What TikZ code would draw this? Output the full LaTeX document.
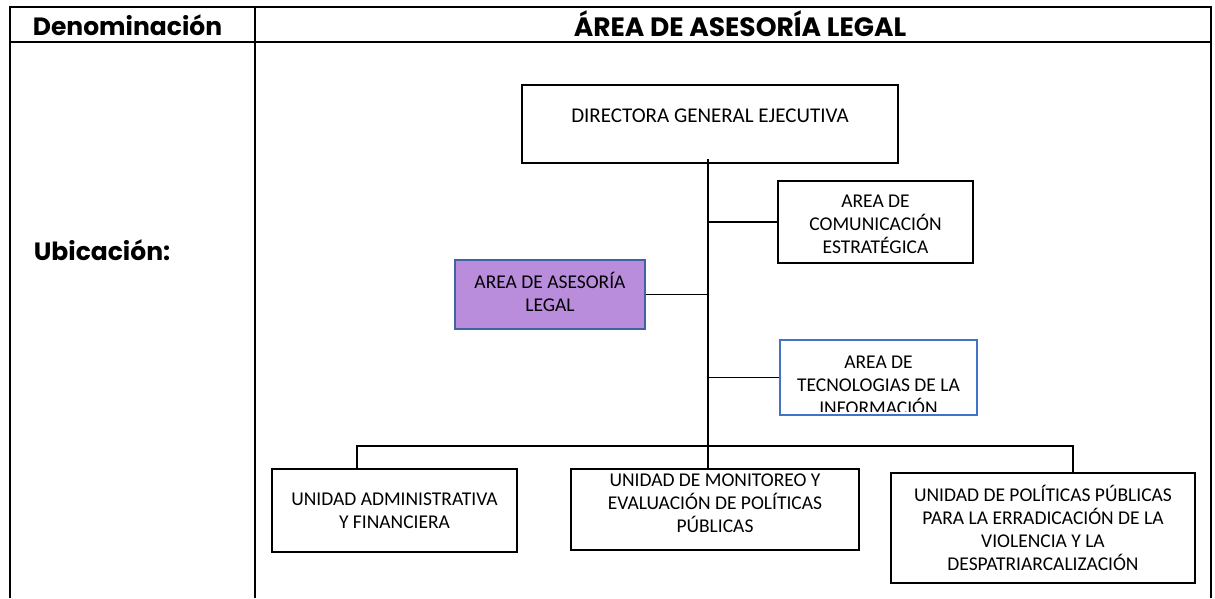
\documentclass[tikz,border=0pt]{standalone}
\usepackage{fontspec}
\setmainfont{Carlito}
\newfontfamily\headfont{Poppins}
\usetikzlibrary{positioning}
\definecolor{legalfill}{RGB}{185,140,220}
\definecolor{legalborder}{RGB}{65,100,160}
\definecolor{tecborder}{RGB}{68,114,196}

\begin{document}
\begin{tikzpicture}[x=1pt, y=-1pt,
    box/.style={rectangle, draw, line width=1.1pt, align=center, inner sep=0pt,
        font=\fontsize{19.5}{23}\selectfont},
    rule/.style={line width=2.4pt},
    link/.style={line width=1.1pt},
    head/.style={font=\headfont\bfseries\fontsize{25}{28}\selectfont}
]
\useasboundingbox (0,0) rectangle (1215,598);

% table frame
\draw[rule] (10,598) -- (10,7) -- (1211,7) -- (1211,598);
\draw[rule] (10,42) -- (1211,42);
\draw[rule] (255,7) -- (255,598);
\node[head] (denom) at (127.5,25.5) {Denominación};
\node[head, font=\headfont\bfseries\fontsize{26.5}{30}\selectfont] (title) at (740,23.5) {ÁREA DE ASESORÍA LEGAL};
\node[head] (ubic) at (102,250) {Ubicación:};

% boxes
\node[box, minimum width=376, minimum height=78, text depth=16pt,
    font=\fontsize{21}{23}\selectfont] (dir) at (710,124) {DIRECTORA GENERAL EJECUTIVA};
\node[box, minimum width=195, minimum height=82, text height=64pt] (com) at (875.5,222) {AREA DE\\COMUNICACIÓN\\ESTRATÉGICA};
\node[box, draw=legalborder, fill=legalfill, minimum width=190, minimum height=69, text depth=6pt] (ase) at (550,294.5) {AREA DE ASESORÍA\\LEGAL};
\node[box, draw=tecborder, minimum width=197, minimum height=75] (tec) at (878.5,377.5) {};
\begin{scope}
    \clip ([yshift=4pt]tec.south west) rectangle (tec.north east);
    \node[box, draw=none, anchor=north] (tecText) at ([yshift=-16pt]tec.north) {AREA DE\\TECNOLOGIAS DE LA\\INFORMACIÓN};
\end{scope}
\node[box, minimum width=245, minimum height=83] (adm) at (394.5,510.5) {UNIDAD ADMINISTRATIVA\\Y FINANCIERA};
\node[box, minimum width=288, minimum height=81, text depth=13pt] (mon) at (715,509.5) {UNIDAD DE MONITOREO Y\\EVALUACIÓN DE POLÍTICAS\\PÚBLICAS};
\node[box, minimum width=304, minimum height=110] (pol) at (1043,528) {UNIDAD DE POLÍTICAS PÚBLICAS\\PARA LA ERRADICACIÓN DE LA\\VIOLENCIA Y LA\\DESPATRIARCALIZACIÓN};

% connectors
\coordinate (trunk) at (708,159);
\coordinate (busL) at (357,446);
\coordinate (busR) at (1073,446);
\draw[link] (trunk) -- (trunk |- mon.north);
\draw[link] (trunk |- com.west) -- (com.west);
\draw[link] (ase.east) -- (ase.east -| trunk);
\draw[link] (trunk |- tec.west) -- (tec.west);
\draw[link] (busL |- adm.north) -- (busL) -- (busR) -- (busR |- pol.north);
\end{tikzpicture}
\end{document}
